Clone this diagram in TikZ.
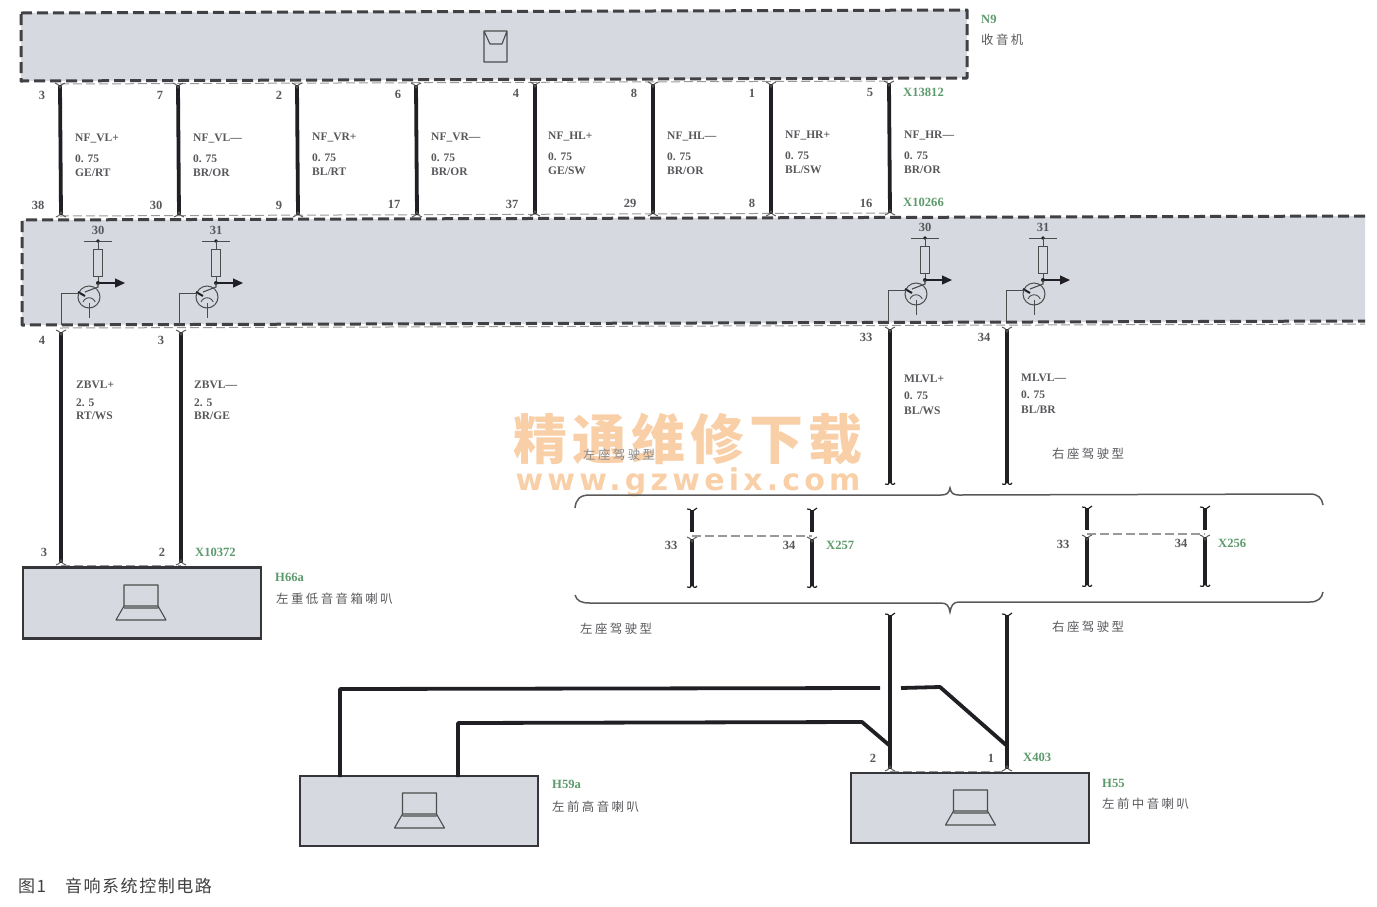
\documentclass[tikz,border=0pt]{standalone}
\usepackage{fontspec}
\setmainfont{Liberation Serif}
\newfontfamily\cjk[LetterSpace=20]{Noto Sans CJK SC}
\newfontfamily\cjkcap[LetterSpace=9]{Noto Sans CJK SC}
\newfontfamily\cjkmark[LetterSpace=9]{Noto Sans CJK SC}
\newfontfamily\webmark[LetterSpace=14]{DejaVu Sans}
\usetikzlibrary{arrows.meta}
\definecolor{boxfill}{HTML}{D6D9DF}
\definecolor{wirecol}{HTML}{1F1F24}
\definecolor{lblcol}{HTML}{58585C}
\definecolor{greencol}{HTML}{5C9A6C}
\definecolor{markcol}{HTML}{F9CFA8}
\tikzset{
  wire/.style={line width=3.8pt,draw=wirecol},
  thinwire/.style={line width=3.2pt,draw=wirecol},
  modedge/.style={line width=3pt,draw=wirecol!85!white,dash pattern=on 11pt off 5pt,line join=round},
  pinrow/.style={line width=1pt,draw=gray!80,dash pattern=on 9pt off 4pt},
  speakerbox/.style={draw=wirecol!90!white,line width=2.6pt,fill=boxfill,rectangle,inner sep=0pt},
  lbl/.style={font=\fontsize{11.5}{13}\selectfont\bfseries,text=lblcol,inner sep=0pt,anchor=west},
  pinno/.style={font=\fontsize{12.5}{14}\selectfont\bfseries,text=lblcol,inner sep=0pt},
  grn/.style={font=\fontsize{12.6}{14}\selectfont\bfseries,text=greencol,inner sep=0pt,anchor=west},
  zh/.style={font=\cjk\fontsize{12.4}{14}\selectfont,text=lblcol,inner sep=0pt,anchor=west},
  forktop/.pic={\draw[line width=1pt,draw=gray!70!black] (-5,-2) .. controls (-3,-2) and (-1,0) .. (0,3) .. controls (1,0) and (3,-2) .. (5,-2);},
  forkbot/.pic={\draw[line width=1pt,draw=gray!70!black] (-5,2) .. controls (-3,2) and (-1,0) .. (0,-3) .. controls (1,0) and (3,2) .. (5,2);},
  hooktop/.pic={\draw[line width=1.2pt,draw=wirecol] (-5,-1) .. controls (-3,-2) and (-1,0) .. (0,2) .. controls (1,0) and (3,0) .. (5,-2);},
  hookbot/.pic={\draw[line width=1.2pt,draw=wirecol] (-5,1) .. controls (-3,3) and (-1,1) .. (0,-2) .. controls (1,1) and (3,3) .. (5,0);},
  speakericon/.pic={\draw[line width=1.1pt,draw=gray!60!black,line join=round] (-17,-18) rectangle (17,3) (-17,3) -- (-25,17) -- (25,17) -- (17,3) (-17,5) -- (17,5);},
  xstor/.pic={
    \node[pinno] (lb) at (0,-11) {#1};
    \draw[line width=0.9pt,draw=gray!60!black] (-14,0) -- (14,0);
    \fill[wirecol] (0,0) circle (1.8);
    \draw[line width=1pt,draw=gray!60!black] (0,0) -- (0,8) (-4.5,8) rectangle (4.5,35) (0,35) -- (0,42);
    \fill[wirecol] (0,42) circle (2);
    \draw[line width=1.2pt,draw=wirecol,-{Triangle[length=10pt,width=9pt]}] (0,42) -- (27,42);
    \draw[line width=1pt,draw=gray!60!black] (-9,56) circle (11);
    \draw[line width=0.9pt,draw=gray!60!black] (-15,61) arc (200:340:6.5);
    \draw[line width=1.1pt,draw=gray!60!black] (0,42) -- (0,46) -- (-13,51);
    \draw[line width=2pt,draw=wirecol] (-20,51) -- (-13,55);
    \draw[line width=1pt,draw=gray!60!black] (-9,62) -- (-9,77);
    \draw[line width=1pt,draw=gray!60!black] (-37,84) -- (-37,52) -- (-18,52);
  }
}
\begin{document}
\begin{tikzpicture}[x=1pt,y=-1pt]
\useasboundingbox (0,0) rectangle (1377,906);
% watermark
\node[font=\cjkmark\fontsize{54}{60}\selectfont\bfseries,text=markcol,inner sep=0pt] (wm1) at (688,439) {精通维修下载};
\node[font=\webmark\fontsize{30}{32}\selectfont\bfseries,text=markcol,inner sep=0pt] (wm2) at (688,482) {www.gzweix.com};
% N9 box
\coordinate (n1) at (21,13); \coordinate (n2) at (967,10); \coordinate (n3) at (967,78); \coordinate (n4) at (21,81);
\fill[boxfill] (n1) -- (n2) -- (n3) -- (n4) -- cycle;
\draw[modedge] (n1) -- (n2) -- (n3) -- (n4) -- cycle;
% radio icon
\draw[line width=1.1pt,draw=gray!60!black,line join=round] (484,31) rectangle (507,62) (484,31) -- (490,44) -- (502,44) -- (507,31);
% module box
\coordinate (m1) at (22,220); \coordinate (m2) at (1365,216); \coordinate (m3) at (1365,321); \coordinate (m4) at (22,325);
\fill[boxfill] (m1) -- (m2) -- (m3) -- (m4) -- cycle;
\draw[modedge] (m2) -- (m1) -- (m4) -- (m3);
\draw[pinrow] (60,84) -- (890,81);
\draw[pinrow] (60,216) -- (890,213);
\draw[pinrow] (60,328) -- (1365,324);
% wires between N9 and module
\foreach \i/\xa/\ya/\xb/\yb in {1/60/85/61/215,2/178/85/179/215,3/297/85/298/215,4/416/85/417/215,5/535/84/535/214,6/653/84/653/214,7/771/84/771/214,8/889/83/890/213}{
  \coordinate (top\i) at (\xa,\ya);
  \coordinate (bot\i) at (\xb,\yb);
  \draw[wire] (top\i) -- (bot\i);
  \path (top\i) pic {forktop} (bot\i) pic {forkbot};
}
\foreach \px/\py/\sa/\sc in {
 75/139/{NF\_VL+}/{GE/RT},193/139/{NF\_VL—}/{BR/OR},312/138/{NF\_VR+}/{BL/RT},431/138/{NF\_VR—}/{BR/OR},
 548/137/{NF\_HL+}/{GE/SW},667/137/{NF\_HL—}/{BR/OR},785/136/{NF\_HR+}/{BL/SW},904/136/{NF\_HR—}/{BR/OR}}{
  \node[lbl] (la\px) at (\px,\py) {\sa};
  \node[lbl] (lb\px) at (\px,\py+20) {0. 75};
  \node[lbl] (lc\px) at (\px,\py+34) {\sc};
}
\foreach \x/\y/\t in {42/95/3,160/95/7,279/95/2,398/94/6,516/93/4,634/93/8,752/93/1,870/92/5,
 38/205/38,156/205/30,279/205/9,394/204/17,512/204/37,630/203/29,752/203/8,866/203/16,
 42/340/4,161/340/3,866/337/33,984/337/34,44/552/3,162/552/2,873/758/2,991/758/1,
 671/545/33,789/545/34,1063/544/33,1181/543/34}{
  \node[pinno] (p\x-\y) at (\x,\y) {\t};
}
\foreach \x/\y/\t in {981/19/N9,903/92/X13812,903/202/X10266,195/552/X10372,275/577/H66a,826/545/X257,1218/543/X256,552/784/H59a,1102/783/H55,1023/757/X403}{
  \node[grn] (g\x) at (\x,\y) {\t};
}
\foreach \x/\y/\t in {981/40/收音机,276/599/左重低音音箱喇叭,552/807/左前高音喇叭,1102/804/左前中音喇叭,1052/454/右座驾驶型,580/629/左座驾驶型,1052/627/右座驾驶型}{
  \node[zh] (z\x-\y) at (\x,\y) {\t};
}
\node[zh,text=lblcol!70] (zlw) at (583,455) {左座驾驶型};
% transistors
\path (98,241) pic {xstor=30};
\path (216,241) pic {xstor=31};
\path (925,238) pic {xstor=30};
\path (1043,238) pic {xstor=31};
% lower left wires and H66a
\node[speakerbox,minimum width=238pt,minimum height=71pt] (h66) at (142,603) {};
\path (141,603) pic {speakericon};
\coordinate (a1) at (61,332); \coordinate (a2) at (61,563); \coordinate (a3) at (181,332); \coordinate (a4) at (181,563);
\draw[wire] (a1) -- (a2); \draw[wire] (a3) -- (a4);
\path (a1) pic {forktop} (a3) pic {forktop} (a2) pic {forkbot} (a4) pic {forkbot};
\draw[pinrow] (61,565) -- (181,565);
\node[lbl] (zb1) at (76,385) {ZBVL+};
\node[lbl] (zb2) at (76,403) {2. 5};
\node[lbl] (zb3) at (76,416) {RT/WS};
\node[lbl] (zc1) at (194,385) {ZBVL—};
\node[lbl] (zc2) at (194,403) {2. 5};
\node[lbl] (zc3) at (194,416) {BR/GE};
% right vertical wires upper
\coordinate (b1) at (890,329); \coordinate (b2) at (890,483); \coordinate (b3) at (1007,329); \coordinate (b4) at (1007,483);
\draw[thinwire] (b1) -- (b2); \draw[thinwire] (b3) -- (b4);
\path (b1) pic {forktop} (b3) pic {forktop} (b2) pic {hookbot} (b4) pic {hookbot};
\node[lbl] (ml1) at (904,379) {MLVL+};
\node[lbl] (ml2) at (904,396) {0. 75};
\node[lbl] (ml3) at (904,411) {BL/WS};
\node[lbl] (mm1) at (1021,378) {MLVL—};
\node[lbl] (mm2) at (1021,395) {0. 75};
\node[lbl] (mm3) at (1021,410) {BL/BR};
% braces
\draw[line width=1.5pt,draw=gray!70!black] (575,508) .. controls (576,499) and (580,495) .. (590,495) -- (941,495) .. controls (947,495) and (949,493) .. (950,488) .. controls (951,493) and (953,495) .. (959,495) -- (1310,494) .. controls (1318,494) and (1322,498) .. (1323,505);
\draw[line width=1.5pt,draw=gray!70!black] (575,595) .. controls (577,601) and (581,603) .. (590,603) -- (941,603) .. controls (947,603) and (949,606) .. (950,612) .. controls (951,606) and (953,602) .. (959,602) -- (1310,602) .. controls (1318,602) and (1322,598) .. (1323,592);
% connector pairs
\foreach \i/\x/\ya/\yb/\yc/\yd in {1/692/510/532/539/586,2/812/510/532/539/586,3/1087/508/530/537/585,4/1205/508/530/537/585}{
  \coordinate (c\i a) at (\x,\ya); \coordinate (c\i b) at (\x,\yb);
  \coordinate (c\i c) at (\x,\yc); \coordinate (c\i d) at (\x,\yd);
  \draw[thinwire,line width=3.6pt] (c\i a) -- (c\i b);
  \draw[thinwire,line width=3.6pt] (c\i c) -- (c\i d);
  \path (c\i a) pic {hooktop} (c\i d) pic {hookbot} (c\i c) pic {forktop};
}
\draw[pinrow,line width=1.3pt] (692,536) -- (812,536);
\draw[pinrow,line width=1.3pt] (1087,534) -- (1205,534);
% H59a and H55
\node[speakerbox,minimum width=238pt,minimum height=70pt] (h59) at (419,811) {};
\node[speakerbox,minimum width=238pt,minimum height=70pt] (h55) at (970,808) {};
\path (419.5,811) pic {speakericon} (970.5,808) pic {speakericon};
\coordinate (d1) at (890,615); \coordinate (d2) at (890,769); \coordinate (d3) at (1007,615); \coordinate (d4) at (1007,769);
\draw[thinwire] (d1) -- (d2); \draw[thinwire] (d3) -- (d4);
\path (d1) pic {hooktop} (d3) pic {hooktop} (d2) pic {forkbot} (d4) pic {forkbot};
\draw[pinrow] (890,771) -- (1007,771);
\coordinate (e1) at (340,777); \coordinate (e2) at (458,777);
\coordinate (e3) at (880,688); \coordinate (e4) at (901,688);
\draw[wire,line join=round] (e1) -- (340,689) -- (e3);
\draw[wire,line join=round] (e4) -- (940,687) -- (1006,745);
\draw[wire,line join=round] (e2) -- (458,723) -- (862,722) -- (889,745);
% caption
\node[font=\cjkcap\fontsize{17}{20}\selectfont,text=black!75,inner sep=0pt,anchor=west] (cap) at (18,886) {图1\hspace{19pt}音响系统控制电路};
\end{tikzpicture}
\end{document}
